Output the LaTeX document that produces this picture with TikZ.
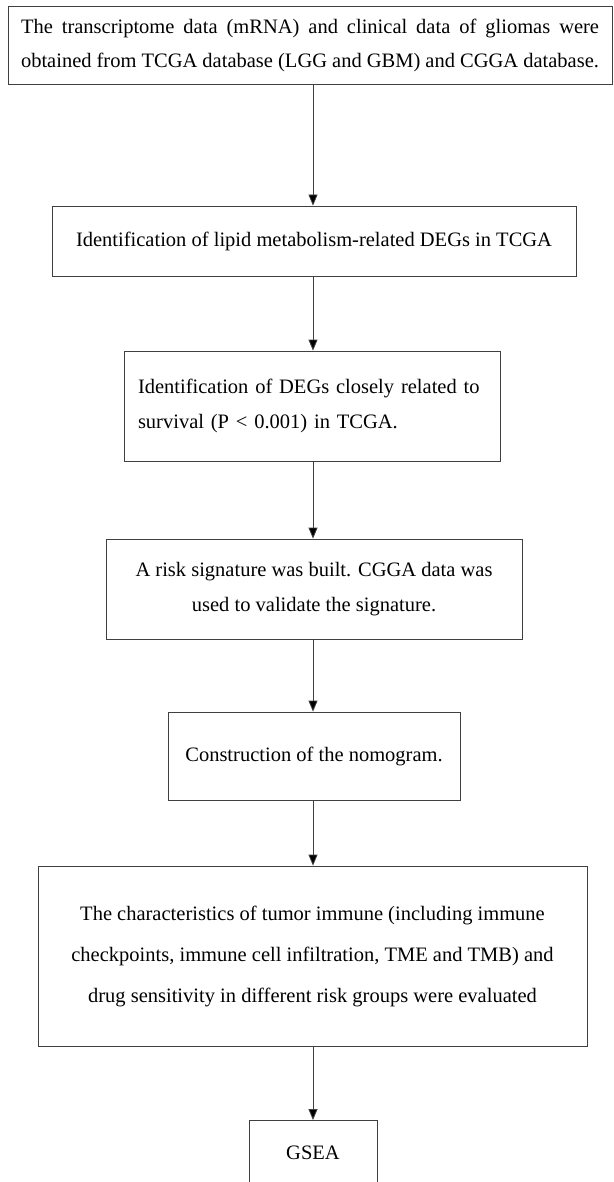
\documentclass[tikz,border=0pt]{standalone}
\usepackage{fontspec}
\setmainfont{Liberation Serif}
\usepackage{tikz}
\usetikzlibrary{positioning, arrows.meta}

\begin{document}
\begin{tikzpicture}[
    x=1pt, y=-1pt,
    stepbox/.style={draw=black!75, line width=0.8pt, align=center, inner sep=0pt,
                    font=\fontsize{20.5pt}{35pt}\selectfont},
    arrow/.style={-{Triangle[length=11pt, width=9pt, fill=black]}, draw=black!75,
                  line width=0.8pt},
]
\useasboundingbox (0,0) rectangle (613,1182);

% --- Data sources ---
\node[stepbox, minimum width=604pt, minimum height=78pt, text width=578pt, align=justify,
      font=\fontsize{20.5pt}{34pt}\selectfont]
    (data) at (310,45)
    {The transcriptome data (mRNA) and clinical data of gliomas were\linebreak
     obtained from TCGA database (LGG and GBM) and CGGA database.};

% --- Lipid metabolism DEGs ---
\node[stepbox, minimum width=524pt, minimum height=70pt] (lipid) at (314,241)
    {Identification of lipid metabolism-related DEGs in TCGA};

% --- Survival-related DEGs ---
\node[stepbox, minimum width=376pt, minimum height=110pt, text width=348pt, align=left]
    (surv) at (312,406)
    {Identification of DEGs closely related to\\
     survival (P < 0.001) in TCGA.};

% --- Risk signature ---
\node[stepbox, minimum width=416pt, minimum height=100pt] (risk) at (314,589)
    {A risk signature was built. CGGA data was\\
     used to validate the signature.};

% --- Nomogram ---
\node[stepbox, minimum width=292pt, minimum height=88pt] (nomo) at (314,756)
    {Construction of the nomogram.};

% --- Immune and drug sensitivity ---
\node[stepbox, minimum width=549pt, minimum height=180pt,
      font=\fontsize{20.5pt}{41pt}\selectfont] (immune) at (312.5,956)
    {The characteristics of tumor immune (including immune\\
     checkpoints, immune cell infiltration, TME and TMB) and\\
     drug sensitivity in different risk groups were evaluated};

% --- GSEA ---
\node[stepbox, minimum width=128pt, minimum height=64pt, anchor=north] (gsea) at (313,1120)
    {GSEA};

% --- Main flow ---
\draw[arrow] (data.south -| gsea.north) -- (lipid.north -| gsea.north);
\draw[arrow] (lipid.south -| gsea.north) -- (surv.north -| gsea.north);
\draw[arrow] (surv.south -| gsea.north) -- (risk.north -| gsea.north);
\draw[arrow] (risk.south -| gsea.north) -- (nomo.north -| gsea.north);
\draw[arrow] (nomo.south -| gsea.north) -- (immune.north -| gsea.north);
\draw[arrow] (immune.south -| gsea.north) -- (gsea.north);
\end{tikzpicture}
\end{document}
